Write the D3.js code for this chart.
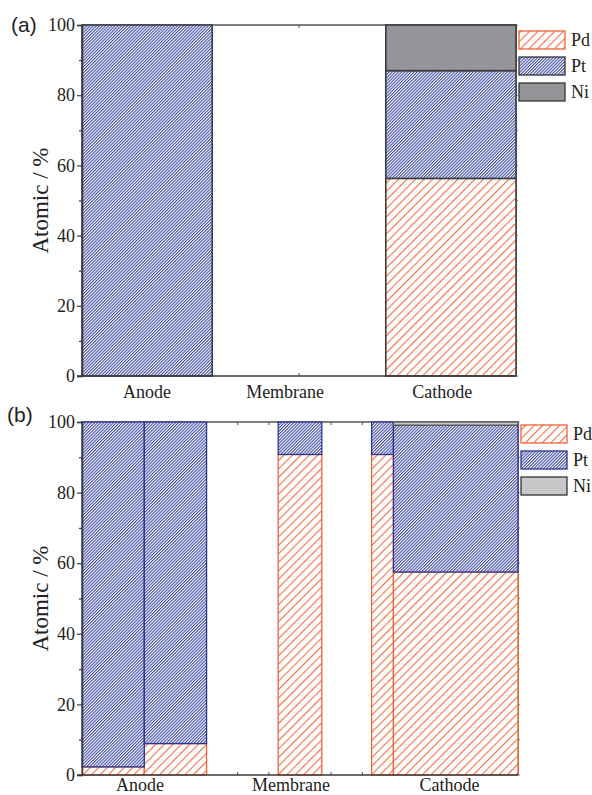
<!DOCTYPE html>
<html><head><meta charset="utf-8">
<script src="https://cdn.jsdelivr.net/npm/d3@7"></script>
<style>body{margin:0;background:#fff} svg{display:block}</style>
</head><body>
<svg id="chart" width="592" height="795"></svg>
<script>
// Composition data (atomic %), one entry per bar
const components = ["Pd", "Pt", "Ni"];
const categories = ["Anode", "Membrane", "Cathode"];
const yTicks = [0, 20, 40, 60, 80, 100];
const yMinorTicks = [10, 30, 50, 70, 90];

// panel (a)
const aBarStart = [0, 7];
const aBarEnd = [3, 10];
const aPd = [0, 56.3];
const aPt = [100, 30.7];
const aNi = [0, 13.0];
const aCategoryAt = [1.5, 4.68, 8.3];
const aXTicksBottom = [5];
const aXTicksTop = [5, 9];

// panel (b)
const bBarStart = [0, 2, 6.3, 9.3, 10];
const bBarEnd = [2, 4, 7.7, 10, 14];
const bPd = [2.3, 8.9, 90.8, 90.8, 57.5];
const bPt = [97.7, 91.1, 9.2, 9.2, 41.6];
const bNi = [0, 0, 0, 0, 0.9];
const bCategoryAt = [1.86, 6.71, 11.8];
const bXTicks = [1, 2, 3, 4, 5, 6, 7, 8, 9, 10, 11, 12, 13];

const svg = d3.select("#chart");
const defs = svg.append("defs");

function hatch(id, spacing, color, width) {
  const p = defs.append("pattern")
    .attr("id", id)
    .attr("patternUnits", "userSpaceOnUse")
    .attr("width", spacing).attr("height", spacing)
    .attr("patternTransform", "rotate(45)");
  p.append("rect").attr("width", spacing).attr("height", spacing).attr("fill", "#fff");
  p.append("line").attr("x1", 0.6).attr("y1", 0).attr("x2", 0.6).attr("y2", spacing)
    .attr("stroke", color).attr("stroke-width", width);
}
hatch("pdHatch", 6, "#f26232", 1);
hatch("ptHatch", 2.2, "#2d3a9c", 1.0);

const serif = "'Liberation Serif', 'Times New Roman', Times, serif";
const sans = "'Liberation Sans', Arial, sans-serif";

function drawPanel(cfg) {
  const g = svg.append("g");
  const x = d3.scaleLinear().domain([0, cfg.xMax]).range([cfg.left, cfg.right]);
  const y = d3.scaleLinear().domain([0, 100]).range([cfg.bottom, cfg.top]);
  const frame = "#3a3a3a";

  // frame: top and right edges with inward ticks
  g.append("line").attr("x1", x(0)).attr("x2", x(cfg.xMax))
    .attr("y1", y(100)).attr("y2", y(100)).attr("stroke", "#555").attr("stroke-width", 1.5);
  g.append("line").attr("x1", x(cfg.xMax)).attr("x2", x(cfg.xMax))
    .attr("y1", y(100)).attr("y2", y(0)).attr("stroke", "#555").attr("stroke-width", 1.5);
  g.selectAll(".tt").data(cfg.xTicksTop).join("line")
    .attr("x1", d => x(d)).attr("x2", d => x(d))
    .attr("y1", y(100)).attr("y2", y(100) + 3).attr("stroke", "#555");
  g.selectAll(".tb").data(cfg.xTicksBottom).join("line")
    .attr("x1", d => x(d)).attr("x2", d => x(d))
    .attr("y1", y(0)).attr("y2", y(0) - 3).attr("stroke", "#555");
  // right-side ticks
  g.selectAll(".rt").data(yTicks.concat(yMinorTicks)).join("line")
    .attr("x1", x(cfg.xMax)).attr("x2", x(cfg.xMax) + 2)
    .attr("y1", d => y(d)).attr("y2", d => y(d)).attr("stroke", "#888");

  // stacked bars
  const fills = { Pd: "url(#pdHatch)", Pt: "url(#ptHatch)", Ni: cfg.niFill };
  const segs = [];
  cfg.start.forEach((s, i) => {
    let base = 0;
    [["Pd", cfg.pd[i]], ["Pt", cfg.pt[i]], ["Ni", cfg.ni[i]]].forEach(([k, v]) => {
      if (v > 0) segs.push({ k, x0: s, x1: cfg.end[i], y0: base, y1: base + v });
      base += v;
    });
  });
  ["Pd", "Pt", "Ni"].forEach(k => {
    g.selectAll(".seg" + k).data(segs.filter(d => d.k === k)).join("rect")
      .attr("x", d => x(d.x0)).attr("width", d => x(d.x1) - x(d.x0))
      .attr("y", d => y(d.y1)).attr("height", d => y(d.y0) - y(d.y1))
      .attr("fill", fills[k])
      .attr("stroke", cfg.segStroke[k]).attr("stroke-width", cfg.segWidth);
  });

  // left axis
  const ya = d3.axisLeft(y).tickValues(yTicks).tickSize(5).tickPadding(2).tickFormat(d3.format("d"));
  const ag = g.append("g").attr("transform", `translate(${x(0)},0)`).call(ya);
  ag.select(".domain").attr("stroke", frame).attr("stroke-width", 1.6);
  ag.selectAll(".tick line").attr("stroke", frame).attr("stroke-width", 1.2);
  ag.selectAll("text").attr("font-family", serif).attr("font-size", 18).attr("fill", "#222");
  const ym = d3.axisLeft(y).tickValues(yMinorTicks).tickSize(3).tickFormat("");
  const mg = g.append("g").attr("transform", `translate(${x(0)},0)`).call(ym);
  mg.select(".domain").remove();
  mg.selectAll(".tick line").attr("stroke", frame).attr("stroke-width", 1.2);

  // bottom axis line
  g.append("line").attr("x1", x(0) - 5).attr("x2", x(cfg.xMax))
    .attr("y1", y(0)).attr("y2", y(0)).attr("stroke", frame).attr("stroke-width", 1.6);

  // category labels
  g.selectAll(".cat").data(categories).join("text")
    .attr("x", (d, i) => x(cfg.catAt[i])).attr("y", cfg.catY)
    .attr("text-anchor", "middle").attr("font-family", serif).attr("font-size", 18)
    .attr("fill", "#222").text(d => d);

  // y title
  g.append("text")
    .attr("transform", `translate(48,${(y(0) + y(100)) / 2}) rotate(-90)`)
    .attr("text-anchor", "middle").attr("font-family", serif).attr("font-size", 23)
    .attr("fill", "#222").text("Atomic / %");

  // panel tag
  g.append("text").attr("x", cfg.tagX).attr("y", cfg.tagY)
    .attr("font-family", sans).attr("font-size", 21).attr("fill", "#222").text(cfg.tag);

  // legend
  const lg = g.append("g");
  components.forEach((c, i) => {
    lg.append("rect").attr("x", cfg.legX).attr("y", cfg.legY + i * 26)
      .attr("width", 46).attr("height", 18)
      .attr("fill", fills[c]).attr("stroke", cfg.legStroke[c]).attr("stroke-width", 1.3);
    lg.append("text").attr("x", cfg.legX + 52).attr("y", cfg.legY + i * 26 + 15)
      .attr("font-family", serif).attr("font-size", 18).attr("fill", "#222").text(c);
  });
}

drawPanel({
  tag: "(a)", tagX: 11, tagY: 32,
  left: 82, right: 516, top: 25, bottom: 376, xMax: 10,
  start: aBarStart, end: aBarEnd, pd: aPd, pt: aPt, ni: aNi,
  catAt: aCategoryAt, catY: 398,
  xTicksTop: aXTicksTop, xTicksBottom: aXTicksBottom,
  niFill: "#939598",
  segStroke: { Pd: "#4a3a36", Pt: "#3c3c48", Ni: "#3c3c3c" }, segWidth: 1.6,
  legX: 519, legY: 31,
  legStroke: { Pd: "#f26232", Pt: "#333", Ni: "#333" }
});

drawPanel({
  tag: "(b)", tagX: 7, tagY: 422,
  left: 82, right: 518, top: 422, bottom: 775, xMax: 14,
  start: bBarStart, end: bBarEnd, pd: bPd, pt: bPt, ni: bNi,
  catAt: bCategoryAt, catY: 791,
  xTicksTop: bXTicks, xTicksBottom: bXTicks,
  niFill: "#c8c8c8",
  segStroke: { Pd: "#f26232", Pt: "#2b3590", Ni: "#555" }, segWidth: 1.3,
  legX: 521, legY: 425,
  legStroke: { Pd: "#f26232", Pt: "#2b3590", Ni: "#333" }
});
</script>
</body></html>
